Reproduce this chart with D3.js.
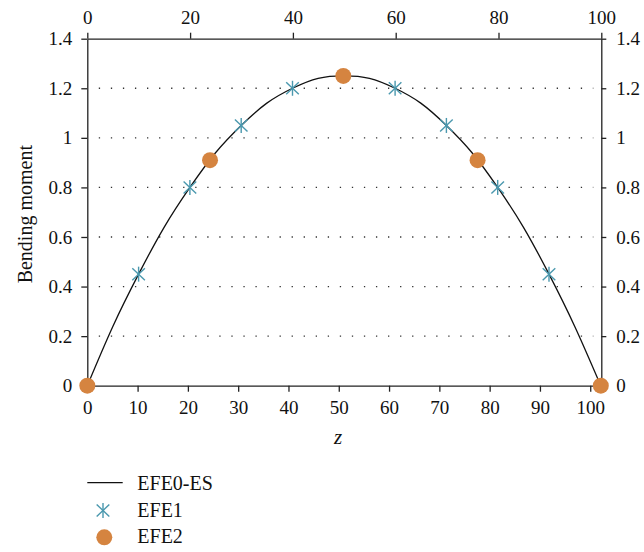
<!DOCTYPE html>
<html><head><meta charset="utf-8">
<script src="https://cdn.jsdelivr.net/npm/d3@7/dist/d3.min.js"></script>
<style>
html,body{margin:0;padding:0;background:#fff;}
text{font-family:"Liberation Serif","Times New Roman",serif;fill:#111;}
</style></head><body>
<svg id="c" width="644" height="552"></svg>
<script>
// ---- data ----
const zCurve = [0, 5.1, 10.2, 15.3, 20.4, 25.5, 30.6, 35.7, 40.8, 45.9, 51.0, 56.1, 61.2, 66.3, 71.4, 76.5, 81.6, 86.7, 91.8, 96.9, 102.1];
const mCurve = [0, 0.24, 0.45, 0.64, 0.80, 0.94, 1.05, 1.14, 1.20, 1.24, 1.25, 1.24, 1.20, 1.14, 1.05, 0.94, 0.80, 0.64, 0.45, 0.24, 0];
const zEFE1 = [10.2, 20.4, 30.6, 40.8, 61.2, 71.4, 81.6, 91.8];
const mEFE1 = [0.45, 0.80, 1.05, 1.20, 1.20, 1.05, 0.80, 0.45];
const zEFE2 = [0, 24.4, 50.9, 77.6, 102.1];
const mEFE2 = [0, 0.91, 1.25, 0.91, 0];
const bottomTicks = [0, 10, 20, 30, 40, 50, 60, 70, 80, 90, 100];
const topTicks = [0, 20, 40, 60, 80, 100];
const yTicks = [0, 0.2, 0.4, 0.6, 0.8, 1, 1.2, 1.4];
const gridTicks = [0.2, 0.4, 0.6, 0.8, 1, 1.2];
const seriesNames = ["EFE0-ES", "EFE1", "EFE2"];

const colStar = "#4a98ae", colDot = "#d58440", axisCol = "#222";
const L = 87.3, R = 601.3, T = 38.7, B = 385.7;
const FS = 19, FL = 20;

const svg = d3.select("#c");
const x = d3.scaleLinear().domain([0, 102.2]).range([L, R]);
const xTop = d3.scaleLinear().domain([0, 100]).range([L, R]);
const y = d3.scaleLinear().domain([0, 1.4]).range([B, T]);
const fmt = d => d3.format("")(+d.toFixed(1));

// grid
svg.append("g").selectAll("line").data(gridTicks).join("line")
  .attr("x1", L + 11.5).attr("x2", R - 8)
  .attr("y1", d => y(d)).attr("y2", d => y(d))
  .attr("stroke", "#333").attr("stroke-width", 1.3)
  .attr("stroke-dasharray", "1.3 10.75");

function styleAxis(g) {
  g.attr("font-family", null).attr("font-size", null);
  g.select(".domain").attr("stroke", axisCol).attr("stroke-width", 1.3);
  g.selectAll(".tick line").attr("stroke", axisCol).attr("stroke-width", 1.3);
  g.selectAll(".tick text").attr("font-size", FS).attr("fill", "#111");
}
const gB = svg.append("g").attr("transform", `translate(0,${B})`)
  .call(d3.axisBottom(x).tickValues(bottomTicks).tickSize(6).tickSizeOuter(0).tickPadding(9).tickFormat(fmt));
styleAxis(gB);
const gT = svg.append("g").attr("transform", `translate(0,${T})`)
  .call(d3.axisTop(xTop).tickValues(topTicks).tickSize(6).tickSizeOuter(0).tickPadding(9).tickFormat(fmt));
styleAxis(gT);
const gL = svg.append("g").attr("transform", `translate(${L},0)`)
  .call(d3.axisLeft(y).tickValues(yTicks).tickSize(6).tickSizeOuter(0).tickPadding(9).tickFormat(fmt));
styleAxis(gL);
const gR = svg.append("g").attr("transform", `translate(${R},0)`)
  .call(d3.axisRight(y).tickValues(yTicks).tickSize(5).tickSizeOuter(0).tickPadding(10).tickFormat(fmt));
styleAxis(gR);

// curve
const line = d3.line().x((d, i) => x(zCurve[i])).y(d => y(d)).curve(d3.curveNatural);
svg.append("path").datum(mCurve).attr("d", line)
  .attr("fill", "none").attr("stroke", "#111").attr("stroke-width", 1.3);

// star marker
function star(g, cx, cy) {
  const s = g.append("g").attr("transform", `translate(${cx},${cy})`)
    .attr("stroke", colStar).attr("stroke-width", 1.4).attr("fill", "none");
  s.append("line").attr("x1", 0).attr("y1", -7.5).attr("x2", 0).attr("y2", 7.5);
  s.append("line").attr("x1", -6.3).attr("y1", -6).attr("x2", 6.3).attr("y2", 6);
  s.append("line").attr("x1", -6.3).attr("y1", 6).attr("x2", 6.3).attr("y2", -6);
}
const gS = svg.append("g");
zEFE1.forEach((z, i) => star(gS, x(z), y(mEFE1[i])));
svg.append("g").selectAll("circle").data(mEFE2).join("circle")
  .attr("cx", (d, i) => x(zEFE2[i])).attr("cy", d => y(d)).attr("r", 8)
  .attr("fill", colDot);

// labels
svg.append("text").attr("transform", `translate(25,${(T + B) / 2 + 2}) rotate(-90)`)
  .attr("text-anchor", "middle").attr("dominant-baseline", "central")
  .attr("font-size", FL).text("Bending moment");
svg.append("text").attr("x", 338).attr("y", 444).attr("text-anchor", "middle")
  .attr("font-size", FL + 1).attr("font-style", "italic").text("z");

// legend
const lg = svg.append("g");
lg.append("line").attr("x1", 87.3).attr("x2", 122.7).attr("y1", 482.7).attr("y2", 482.7)
  .attr("stroke", "#111").attr("stroke-width", 1.3);
star(lg, 103, 510.5);
lg.append("circle").attr("cx", 104.3).attr("cy", 537.3).attr("r", 8).attr("fill", colDot);
const baselines = [490, 516.5, 543];
lg.selectAll("text").data(seriesNames).join("text")
  .attr("x", 137.3).attr("y", (d, i) => baselines[i]).attr("font-size", FL).text(d => d);
</script></body></html>
